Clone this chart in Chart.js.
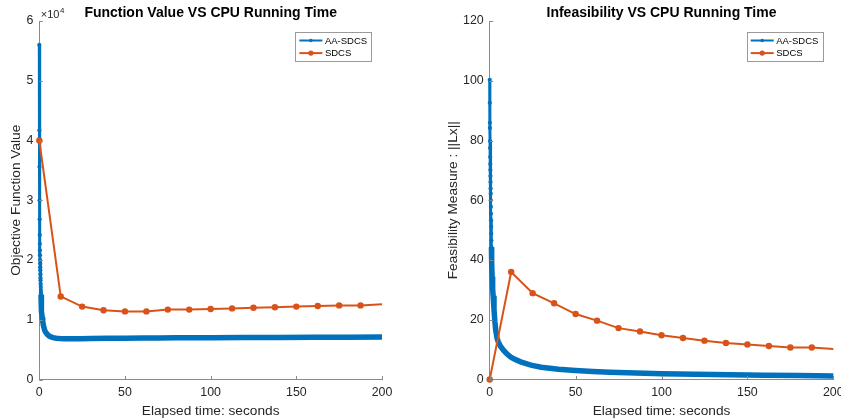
<!DOCTYPE html>
<html><head><meta charset="utf-8">
<script src="https://cdn.jsdelivr.net/npm/chart.js@4"></script>
<style>
html,body{margin:0;padding:0;background:#fff;overflow:hidden;width:841px;height:419px;position:relative}
#l{position:absolute;left:0;top:0;width:420px;height:419px}
#r{position:absolute;left:420px;top:0;width:441px;height:419px}
</style></head><body>
<div id="l"><canvas id="c1"></canvas></div>
<div id="r"><canvas id="c2"></canvas></div>
<script>
// ---- data ----
const seriesNames = ['AA-SDCS', 'SDCS'];
const chartTitles = ['Function Value VS CPU Running Time', 'Infeasibility VS CPU Running Time'];
const xLabel = 'Elapsed time: seconds';
const yLabels = ['Objective Function Value', 'Feasibility Measure : ||Lx||'];
const xTicks = [0, 50, 100, 150, 200];
const objTicks = [0, 10000, 20000, 30000, 40000, 50000, 60000];
const infTicks = [0, 20, 40, 60, 80, 100, 120];

const aaTime = [0,0.05,0.1,0.15,0.2,0.25,0.3,0.35,0.4,0.45,0.5,0.55,0.6,0.65,0.7,0.75,0.8,0.85,0.9,0.95,1.0,
  1.1,1.2,1.4,1.7,2.0,2.5,3.0,3.5,4.3,5.0,6.2,8,10,12,14,18,24,30,40,50,60,70,80,90,100,120,140,160,180,200];
const aaObjective = [56000,41700,35600,30000,26800,24200,22700,21600,20800,20000,19400,18800,18300,17600,17000,16600,16000,15500,15000,14600,14200,
  13400,12600,11400,10400,9700,8900,8400,8000,7700,7450,7200,7000,6900,6850,6830,6820,6840,6860,6890,6910,6930,6950,6970,6990,7000,7030,7050,7070,7090,7110];
const aaInfeas = [100.3,92.6,85.9,84.2,79.8,77.5,74.5,72.1,70.1,68.1,66.1,63.9,62.2,60.0,57.8,55.5,53.3,51.1,48.8,46.6,44.3,
  41.5,39,34.5,30.5,28,23.5,19.5,16.5,13.8,12.6,11.2,9.8,8.6,7.6,6.9,5.9,4.8,4.1,3.4,3.0,2.7,2.45,2.25,2.1,1.95,1.75,1.6,1.45,1.3,1.2];

const sdcsTime = [0,12.5,25,37.5,50,62.5,75,87.5,100,112.5,125,137.5,150,162.5,175,187.5,200];
const sdcsObjective = [40000,13900,12200,11600,11400,11400,11700,11700,11800,11900,12000,12100,12200,12300,12400,12400,12600];
const sdcsInfeas = [0,36.0,28.9,25.5,21.9,19.7,17.2,16.1,14.8,13.9,13.0,12.2,11.7,11.2,10.7,10.7,10.2];

// ---- style ----
const BLUE = '#0072BD', RED = '#D95319';
const FONT = 'Liberation Sans, Arial, Helvetica, sans-serif';
const TXT = '#262626', AXIS = '#8a8a8a';

function pts(xs, ys) { return xs.map((x, i) => ({x: x, y: ys[i]})); }

const deco = {
  id: 'deco',
  afterDraw(chart, args, o) {
    const ctx = chart.ctx, a = chart.chartArea;
    const xs = chart.scales.x, ys = chart.scales.y;
    ctx.save();
    // inward tick marks
    ctx.strokeStyle = AXIS; ctx.lineWidth = 1;
    ctx.beginPath();
    xs.ticks.forEach(t => { const px = Math.round(xs.getPixelForValue(t.value)) + 0.5; ctx.moveTo(px, a.bottom); ctx.lineTo(px, a.bottom - 3.5); });
    ys.ticks.forEach(t => { const py = Math.round(ys.getPixelForValue(t.value)) + 0.5; ctx.moveTo(a.left, py); ctx.lineTo(a.left + 3.5, py); });
    ctx.stroke();
    // title
    ctx.fillStyle = '#000';
    ctx.font = 'bold 14px ' + FONT;
    ctx.textAlign = 'center'; ctx.textBaseline = 'alphabetic';
    ctx.fillText(o.title, (a.left + a.right) / 2, 17.3);
    // exponent
    if (o.exponent) {
      ctx.fillStyle = TXT; ctx.textAlign = 'left';
      ctx.font = '11px ' + FONT;
      const base = '\u00d710';
      ctx.fillText(base, a.left + 1.5, 18.3);
      const w = ctx.measureText(base).width;
      ctx.font = '8px ' + FONT;
      ctx.fillText(o.exponent, a.left + 1.5 + w + 0.5, 12.5);
    }
    // legend
    const bw = 75.6, bh = 28.5;
    const bx = a.right - 11 - bw, by = a.top + 11;
    ctx.fillStyle = '#fff';
    ctx.fillRect(bx, by, bw, bh);
    ctx.strokeStyle = '#9a9a9a'; ctx.lineWidth = 1;
    ctx.strokeRect(Math.round(bx) + 0.5, Math.round(by) + 0.5, Math.round(bw), Math.round(bh));
    const rows = [[seriesNames[0], BLUE, 1.8], [seriesNames[1], RED, 2.6]];
    rows.forEach((r, i) => {
      const cy = by + 8.5 + i * 12.6;
      ctx.strokeStyle = r[1]; ctx.lineWidth = 2;
      ctx.beginPath(); ctx.moveTo(bx + 4, cy); ctx.lineTo(bx + 27, cy); ctx.stroke();
      ctx.fillStyle = r[1];
      ctx.beginPath(); ctx.arc(bx + 15.5, cy, r[2], 0, Math.PI * 2); ctx.fill();
      ctx.fillStyle = '#000'; ctx.font = '9.5px ' + FONT;
      ctx.textAlign = 'left'; ctx.textBaseline = 'middle';
      ctx.fillText(r[0], bx + 29.5, cy + 0.5);
    });
    ctx.restore();
  }
};

function makeChart(id, yVals, redVals, yTickVals, yMax, yLabel, title, exponent, yWidth, padRight, yTitlePad) {
  const lastRed = sdcsTime.length - 1;
  return new Chart(document.getElementById(id), {
    type: 'line',
    data: {
      datasets: [
        {
          label: seriesNames[1], data: pts(sdcsTime, redVals), order: 0,
          borderColor: RED, backgroundColor: RED, borderWidth: 2,
          pointRadius: c => c.dataIndex === lastRed ? 0 : 3.2,
          pointBorderWidth: 0, pointStyle: 'circle', clip: 8, tension: 0
        },
        {
          label: seriesNames[0], data: pts(aaTime, yVals), order: 1,
          borderColor: BLUE, backgroundColor: BLUE, borderWidth: 3,
          segment: { borderWidth: c => aaTime[c.p0DataIndex] >= 1.0 ? 5.5 : 3 },
          pointRadius: c => aaTime[c.dataIndex] <= 1.2 ? 2.1 : 0,
          pointBorderWidth: 0, clip: 8, tension: 0
        }
      ]
    },
    options: {
      responsive: true, maintainAspectRatio: false, animation: false,
      events: [],
      layout: { padding: { top: 21, left: 0, right: padRight, bottom: 0 } },
      plugins: { legend: { display: false }, tooltip: { enabled: false },
        deco: { title: title, exponent: exponent } },
      scales: {
        x: {
          type: 'linear', min: 0, max: 200,
          afterBuildTicks: s => { s.ticks = xTicks.map(v => ({value: v})); },
          grid: { display: false, drawTicks: false },
          border: { display: true, color: AXIS, width: 1 },
          ticks: { color: TXT, padding: 6, font: { size: 12.4, family: FONT }, maxRotation: 0, autoSkip: false },
          title: { display: true, text: xLabel, color: TXT, font: { size: 13.7, family: FONT }, padding: { top: 0, bottom: 0 } },
          afterFit: s => { s.height = 39.5; }
        },
        y: {
          type: 'linear', min: 0, max: yMax,
          afterBuildTicks: s => { s.ticks = yTickVals.map(v => ({value: v})); },
          grid: { display: false, drawTicks: false },
          border: { display: true, color: AXIS, width: 1 },
          ticks: { color: TXT, padding: 6, font: { size: 12.4, family: FONT }, autoSkip: false,
            callback: v => exponent ? String(v / 10000) : String(v) },
          title: { display: true, text: yLabel, color: TXT, font: { size: 13.7, family: FONT }, padding: { top: yTitlePad, bottom: 0 } },
          afterFit: s => { s.width = yWidth; }
        }
      }
    },
    plugins: [deco]
  });
}

makeChart('c1', aaObjective, sdcsObjective, objTicks, 60000, yLabels[0], chartTitles[0], '4', 39.3, 38, 8.3);
makeChart('c2', aaInfeas, sdcsInfeas, infTicks, 120, yLabels[1], chartTitles[1], null, 69.7, 27.7, 24.8);
</script>
</body></html>
